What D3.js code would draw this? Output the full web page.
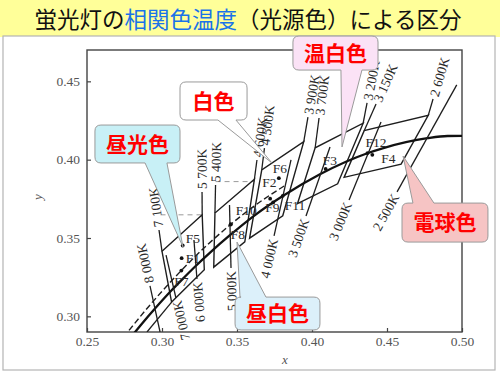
<!DOCTYPE html>
<html>
<head>
<meta charset="utf-8">
<script src="https://cdn.jsdelivr.net/npm/d3@7"></script>
<style>
body { margin: 0; background: #fff; }
svg { display: block; }
</style>
</head>
<body>
<svg id="chart" width="500" height="375"></svg>
<script>
// ---- data (CIE 1931 x, y) ----
var xTicks = [0.25, 0.30, 0.35, 0.40, 0.45, 0.50];
var yTicks = [0.30, 0.35, 0.40, 0.45];

// blackbody (Planckian) locus
var planckX = [0.2807, 0.2869, 0.2952, 0.3064, 0.3135, 0.3221, 0.3324, 0.3451, 0.3611, 0.3805, 0.4053, 0.4369, 0.4476, 0.4770, 0.4904, 0.5020];
var planckY = [0.2884, 0.2956, 0.3048, 0.3166, 0.3236, 0.3318, 0.3410, 0.3516, 0.3640, 0.3768, 0.3907, 0.4041, 0.4074, 0.4137, 0.4151, 0.4152];

// daylight locus (dashed)
var dayX = [0.2780, 0.2900, 0.3000, 0.3127, 0.3300, 0.3457, 0.3600, 0.3823];
var dayY = [0.2910, 0.3050, 0.3160, 0.3291, 0.3454, 0.3586, 0.3694, 0.3837];

// colour ranges: corners BL, TL, TR, BR
var boxNames = ["D", "N", "W", "WW", "L"];
var boxX = [[0.3064, 0.3000, 0.3268, 0.3282],
            [0.3345, 0.3353, 0.3616, 0.3552],
            [0.3584, 0.3665, 0.3945, 0.3805],
            [0.3903, 0.4021, 0.4341, 0.4171],
            [0.4214, 0.4348, 0.4775, 0.4594]];
var boxY = [[0.3091, 0.3415, 0.3648, 0.3297],
            [0.3314, 0.3659, 0.3875, 0.3476],
            [0.3499, 0.3935, 0.4115, 0.3642],
            [0.3719, 0.4076, 0.4233, 0.3846],
            [0.3887, 0.4185, 0.4283, 0.3971]];

// isotemperature lines crossing the locus (top point, bottom point)
var isoLabels = ["8 000K", "7 000K", "6 000K", "5 000K", "4 000K", "3 500K", "3 000K", "2 500K"];
var isoTopX = [0.2920, 0.3027, 0.3213, 0.3450, 0.3860, 0.4120, 0.4460, 0.4965];
var isoTopY = [0.3194, 0.3391, 0.3487, 0.3711, 0.3998, 0.4081, 0.4240, 0.4477];
var isoBotX = [0.2987, 0.3093, 0.3233, 0.3460, 0.3747, 0.3960, 0.4247, 0.4567];
var isoBotY = [0.2900, 0.3117, 0.3238, 0.3308, 0.3513, 0.3640, 0.3743, 0.3794];
var isoLabelEnd = ["top", "bottom", "bottom", "bottom", "bottom", "bottom", "bottom", "bottom"];

// range edges extended upward (from box corner to label)
var edgeLabels = ["7 100K", "5 700K", "5 400K", "4 600K", "4 500K", "3 900K", "3 700K", "3 200K", "3 150K", "2 600K"];
var edgeX1 = [0.3000, 0.3268, 0.3353, 0.3616, 0.3665, 0.3945, 0.4021, 0.4341, 0.4348, 0.4775];
var edgeY1 = [0.3415, 0.3648, 0.3659, 0.3875, 0.3935, 0.4115, 0.4076, 0.4233, 0.4185, 0.4283];
var edgeX2 = [0.2980, 0.3267, 0.3357, 0.3633, 0.3683, 0.3973, 0.4047, 0.4367, 0.4427, 0.4807];
var edgeY2 = [0.3551, 0.3794, 0.3838, 0.3998, 0.4074, 0.4272, 0.4266, 0.4362, 0.4355, 0.4387];

// lower boundary of the daylight range carried to the axis
var extX = [0.3064, 0.2900];
var extY = [0.3091, 0.2900];

// grey dashed guides
var guideY = [0.3648, 0.3860];
var guideX1 = [0.2990, 0.3357];
var guideX2 = [0.3268, 0.3616];

// fluorescent illuminants F1-F12
var fNames = ["F1", "F2", "F3", "F4", "F5", "F6", "F7", "F8", "F9", "F10", "F11", "F12"];
var fX = [0.3131, 0.3721, 0.4091, 0.4402, 0.3138, 0.3779, 0.3129, 0.3458, 0.3741, 0.3458, 0.3805, 0.4370];
var fY = [0.3371, 0.3751, 0.3941, 0.4031, 0.3452, 0.3882, 0.3292, 0.3586, 0.3727, 0.3588, 0.3769, 0.4042];

// callouts
var calloutText = ["昼光色", "白色", "温白色", "電球色", "昼白色"];
var calloutX0 = [0.2553, 0.3120, 0.3873, 0.4600, 0.3487];
var calloutX1 = [0.3120, 0.3567, 0.4440, 0.5173, 0.4053];
var calloutYTop = [0.4221, 0.4496, 0.4789, 0.3723, 0.3123];
var calloutYBot = [0.3979, 0.4253, 0.4572, 0.3474, 0.2913];
var calloutBase1 = [0.2887, 0.3373, 0.4193, 0.4673, 0.3520];
var calloutBase2 = [0.3033, 0.3493, 0.4333, 0.4813, 0.3693];
var calloutTipX = [0.3140, 0.3733, 0.4200, 0.4607, 0.3500];
var calloutTipY = [0.3443, 0.3979, 0.4081, 0.4023, 0.3474];
var calloutSide = ["bottom", "bottom", "bottom", "top", "top"];

// ---- layout / style ----
var fLabelOffset = {
  F1: [4, 5], F2: [-8, -12], F3: [-3, -4], F4: [9, 8], F5: [3, -3], F6: [-6, -5],
  F7: [-7, 15], F8: [0, 14], F9: [-8, 10], F10: [5, -9], F11: [2, 14], F12: [-2, -6]
};
var calloutFill = ["#c8f0f6", "#ffffff", "#fbe2f6", "#f6c4c4", "#dcf0fa"];
var serif = "'Liberation Serif', 'DejaVu Serif', serif";
var cjk = "'Noto Sans CJK JP', 'Noto Sans CJK SC', sans-serif";

var svg = d3.select("#chart");

// title band and panel
svg.append("rect").attr("x", 0).attr("y", 0).attr("width", 500).attr("height", 37).attr("fill", "#ffff99");
svg.append("rect").attr("x", 3).attr("y", 36).attr("width", 492).attr("height", 334)
    .attr("fill", "#fff").attr("stroke", "#b4b4b4").attr("stroke-width", 1.2);

var title = svg.append("text").attr("x", 248).attr("y", 28).attr("text-anchor", "middle")
    .attr("font-family", cjk).attr("font-size", 22.5).attr("fill", "#111");
title.append("tspan").text("蛍光灯の");
title.append("tspan").attr("fill", "#1a73e8").text("相関色温度");
title.append("tspan").text("（光源色）による区分");

var x = d3.scaleLinear().domain([0.25, 0.50]).range([87, 462]);
var y = d3.scaleLinear().domain([0.29, 0.47]).range([332, 50]);

svg.append("clipPath").attr("id", "plotclip").append("rect")
    .attr("x", x(0.25)).attr("y", y(0.47)).attr("width", x(0.50) - x(0.25)).attr("height", y(0.29) - y(0.47));

// axes
var gx = svg.append("g").attr("transform", "translate(0," + y(0.29) + ")")
    .call(d3.axisBottom(x).tickValues(xTicks).tickFormat(d3.format(".2f")).tickSizeInner(-4).tickSizeOuter(0).tickPadding(4));
var gy = svg.append("g").attr("transform", "translate(" + x(0.25) + ",0)")
    .call(d3.axisLeft(y).tickValues(yTicks).tickFormat(d3.format(".2f")).tickSizeInner(-4).tickSizeOuter(0).tickPadding(7));
[gx, gy].forEach(function(g) {
  g.select(".domain").remove();
  g.selectAll("line").attr("stroke", "#444").attr("stroke-width", 1.2);
  g.selectAll("text").attr("font-family", serif).attr("font-size", 13.5).attr("fill", "#555");
});

svg.append("rect").attr("x", x(0.25)).attr("y", y(0.47))
    .attr("width", x(0.50) - x(0.25)).attr("height", y(0.29) - y(0.47))
    .attr("fill", "none").attr("stroke", "#444").attr("stroke-width", 1.4);

svg.append("text").attr("x", 285).attr("y", 364).attr("text-anchor", "middle")
    .attr("font-family", serif).attr("font-style", "italic").attr("font-size", 13).attr("fill", "#555").text("x");
svg.append("text").attr("transform", "translate(42,197) rotate(-90)").attr("text-anchor", "middle")
    .attr("font-family", serif).attr("font-style", "italic").attr("font-size", 13).attr("fill", "#555").text("y");

var plot = svg.append("g").attr("clip-path", "url(#plotclip)");
var ink = "#1e1e1e";

var line = d3.line().x(function(d) { return x(d[0]); }).y(function(d) { return y(d[1]); });
var smooth = d3.line().x(function(d) { return x(d[0]); }).y(function(d) { return y(d[1]); }).curve(d3.curveMonotoneX);

// guides
guideY.forEach(function(gyv, i) {
  plot.append("line").attr("x1", x(guideX1[i])).attr("x2", x(guideX2[i]))
      .attr("y1", y(gyv)).attr("y2", y(gyv))
      .attr("stroke", "#9a9a9a").attr("stroke-width", 1).attr("stroke-dasharray", "5,4");
});

// range boxes
boxNames.forEach(function(n, i) {
  var pts = boxX[i].map(function(v, j) { return [v, boxY[i][j]]; });
  plot.append("path").attr("d", line(pts) + "Z")
      .attr("fill", "none").attr("stroke", ink).attr("stroke-width", 1.4);
});

plot.append("path").attr("d", line(extX.map(function(v, i) { return [v, extY[i]]; })))
    .attr("fill", "none").attr("stroke", ink).attr("stroke-width", 1.3);

// loci
plot.append("path").attr("d", smooth(planckX.map(function(v, i) { return [v, planckY[i]]; })))
    .attr("fill", "none").attr("stroke", "#111").attr("stroke-width", 2.3);
plot.append("path").attr("d", smooth(dayX.map(function(v, i) { return [v, dayY[i]]; })))
    .attr("fill", "none").attr("stroke", ink).attr("stroke-width", 1.4).attr("stroke-dasharray", "6,3");

// rotated temperature label along a line
function tempLabel(px, py, ux, uy, txt, anchor) {
  var ang = Math.atan2(uy, ux) * 180 / Math.PI;
  svg.append("text")
      .attr("transform", "translate(" + px + "," + py + ") rotate(" + ang + ")")
      .attr("text-anchor", anchor).attr("dy", "0.35em")
      .attr("font-family", serif).attr("font-size", 13.5).attr("fill", "#2a2a2a")
      .text(txt);
}

isoLabels.forEach(function(lab, i) {
  var tx = x(isoTopX[i]), ty = y(isoTopY[i]), bx = x(isoBotX[i]), by = y(isoBotY[i]);
  plot.append("line").attr("x1", tx).attr("y1", ty).attr("x2", bx).attr("y2", by)
      .attr("stroke", ink).attr("stroke-width", 1.3);
  var len = Math.hypot(tx - bx, ty - by), ux = (tx - bx) / len, uy = (ty - by) / len;
  if (isoLabelEnd[i] === "top") tempLabel(tx + ux * 3, ty + uy * 3, ux, uy, lab, "start");
  else tempLabel(bx - ux * 3, by - uy * 3, ux, uy, lab, "end");
});

edgeLabels.forEach(function(lab, i) {
  var ax = x(edgeX1[i]), ay = y(edgeY1[i]), ex = x(edgeX2[i]), ey = y(edgeY2[i]);
  plot.append("line").attr("x1", ax).attr("y1", ay).attr("x2", ex).attr("y2", ey)
      .attr("stroke", ink).attr("stroke-width", 1.3);
  var len = Math.hypot(ex - ax, ey - ay), ux = (ex - ax) / len, uy = (ey - ay) / len;
  tempLabel(ex + ux * 3, ey + uy * 3, ux, uy, lab, "start");
});

// F points
fNames.forEach(function(n, i) {
  var cx = x(fX[i]), cy = y(fY[i]), off = fLabelOffset[n];
  svg.append("circle").attr("cx", cx).attr("cy", cy).attr("r", 1.9).attr("fill", "#111");
  svg.append("text").attr("x", cx + off[0]).attr("y", cy + off[1])
      .attr("font-family", serif).attr("font-size", 13.5).attr("fill", "#2a2a2a").text(n);
});

// callouts
function calloutPath(i) {
  var x0 = x(calloutX0[i]), x1 = x(calloutX1[i]), y0 = y(calloutYTop[i]), y1 = y(calloutYBot[i]);
  var b1 = x(calloutBase1[i]), b2 = x(calloutBase2[i]), tx = x(calloutTipX[i]), ty = y(calloutTipY[i]);
  var r = 6, p = d3.path();
  p.moveTo(x0 + r, y0);
  if (calloutSide[i] === "top") { p.lineTo(b1, y0); p.lineTo(tx, ty); p.lineTo(b2, y0); }
  p.lineTo(x1 - r, y0); p.quadraticCurveTo(x1, y0, x1, y0 + r);
  p.lineTo(x1, y1 - r); p.quadraticCurveTo(x1, y1, x1 - r, y1);
  if (calloutSide[i] === "bottom") { p.lineTo(b2, y1); p.lineTo(tx, ty); p.lineTo(b1, y1); }
  p.lineTo(x0 + r, y1); p.quadraticCurveTo(x0, y1, x0, y1 - r);
  p.lineTo(x0, y0 + r); p.quadraticCurveTo(x0, y0, x0 + r, y0);
  p.closePath();
  return p.toString();
}

calloutText.forEach(function(t, i) {
  svg.append("path").attr("d", calloutPath(i))
      .attr("fill", calloutFill[i]).attr("stroke", "#9a9a9a").attr("stroke-width", 1);
  svg.append("text")
      .attr("x", (x(calloutX0[i]) + x(calloutX1[i])) / 2)
      .attr("y", (y(calloutYTop[i]) + y(calloutYBot[i])) / 2)
      .attr("text-anchor", "middle").attr("dy", "0.36em")
      .attr("font-family", cjk).attr("font-weight", "bold").attr("font-size", 21)
      .attr("fill", "#ff0000").text(t);
});
</script>
</body>
</html>
